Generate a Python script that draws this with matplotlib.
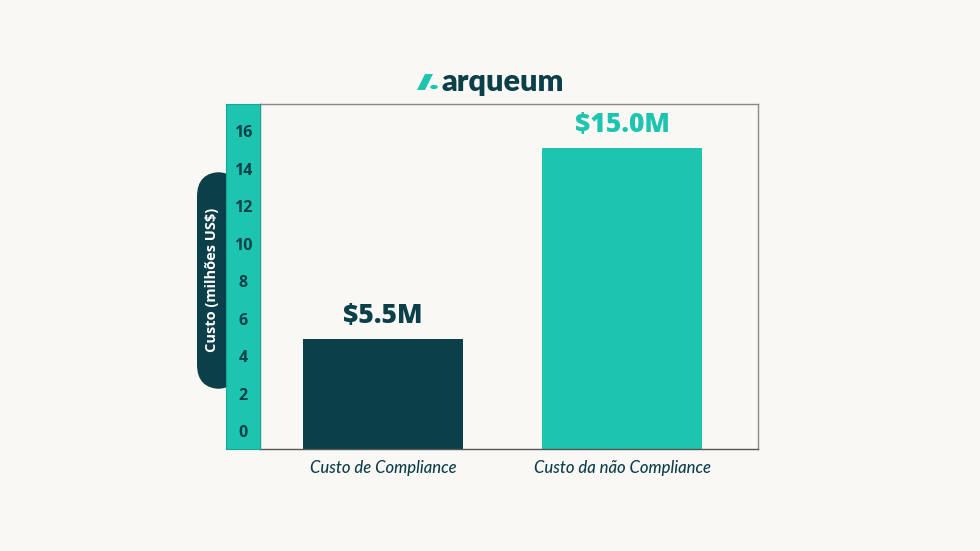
import matplotlib.pyplot as plt
from matplotlib.patches import FancyBboxPatch, Polygon, Circle
import matplotlib.transforms as mtransforms

# --- DATA ---
categories = ["Custo de Compliance", "Custo da não Compliance"]
values = [5.5, 15.0]
value_labels = ["$5.5M", "$15.0M"]
tick_values = [0, 2, 4, 6, 8, 10, 12, 14, 16]
y_title = "Custo (milhões US$)"

# --- STYLE ---
BG = "#FAF8F5"
DARK = "#0B3F4A"
TEAL = "#1DC5B0"
W, H = 980, 551

fig = plt.figure(figsize=(W / 100, H / 100), dpi=100)
fig.patch.set_facecolor(BG)


def fx(px):
    return px / W


def fy(py):
    return 1 - py / H


# Plot box (pixel bounds from reference)
top, bottom = 104, 449
ax = fig.add_axes([fx(260), fy(bottom), fx(758 - 260), (bottom - top) / H])
ax.set_facecolor(BG)
bars = ax.bar(range(len(values)), values, width=0.668, color=[DARK, TEAL], zorder=2)
ax.set_xlim(-0.5136, 1.566)
ax.set_ylim(0, 17.19)
ax.set_yticks([])
ax.set_xticks(range(len(categories)))
ax.set_xticklabels(categories, fontfamily="Lato", fontstyle="italic", fontsize=12,
                   color=DARK, fontweight="medium")
ax.tick_params(axis="x", length=0, pad=8)
for s in ax.spines.values():
    s.set_color("#8a8a8a")
    s.set_linewidth(1.0)
ax.spines["bottom"].set_color("#555555")

for b, lab, col in zip(bars, value_labels, [DARK, TEAL]):
    ax.annotate(lab, (b.get_x() + b.get_width() / 2, b.get_height()),
                xytext=(0, 7), textcoords="offset points", ha="center", va="bottom",
                fontsize=19, fontweight="heavy", color=col, fontfamily="Open Sans")

# Teal strip with tick labels
sax = fig.add_axes([fx(226), fy(bottom), fx(260 - 226), (bottom - top) / H], zorder=3)
sax.set_facecolor(TEAL)
sax.set_ylim(-0.853, 17.55)
sax.set_xticks([])
sax.set_yticks([])
for s in sax.spines.values():
    s.set_color("#17a594")
    s.set_linewidth(0.8)
trans = mtransforms.blended_transform_factory(sax.transAxes, sax.transData)
for t in tick_values:
    sax.text(0.5, t, str(t), transform=trans, ha="center", va="center",
             fontsize=11.5, fontweight="bold", color=DARK, fontfamily="Open Sans")

# Dark tab behind the strip with y-axis title
tab = FancyBboxPatch((fx(197), fy(389)), fx(240 - 197), (389 - 172) / H,
                     boxstyle="round,pad=0,rounding_size=0.025",
                     transform=fig.transFigure, facecolor=DARK, edgecolor="none",
                     zorder=1, mutation_aspect=W / H)
fig.patches.append(tab)
fig.text(fx(211.5), fy(280), y_title, rotation=90, ha="center", va="center",
         color="white", fontsize=10.5, fontweight="bold", fontfamily="Open Sans", zorder=5)

# Logo
icon = Polygon([(fx(417), fy(90)), (fx(425), fy(74)), (fx(433), fy(74)), (fx(425), fy(90))],
               closed=True, transform=fig.transFigure, facecolor=TEAL, edgecolor="none")
fig.patches.append(icon)
dot = Circle((fx(434), fy(87)), fx(3.8), transform=fig.transFigure,
             facecolor=TEAL, edgecolor="none")
fig.patches.append(dot)
fig.text(fx(441), fy(82), "arqueum", ha="left", va="center", fontsize=22,
         fontweight="heavy", color=DARK, fontfamily="Lato")

fig.savefig("out.png", dpi=100, facecolor=BG)
